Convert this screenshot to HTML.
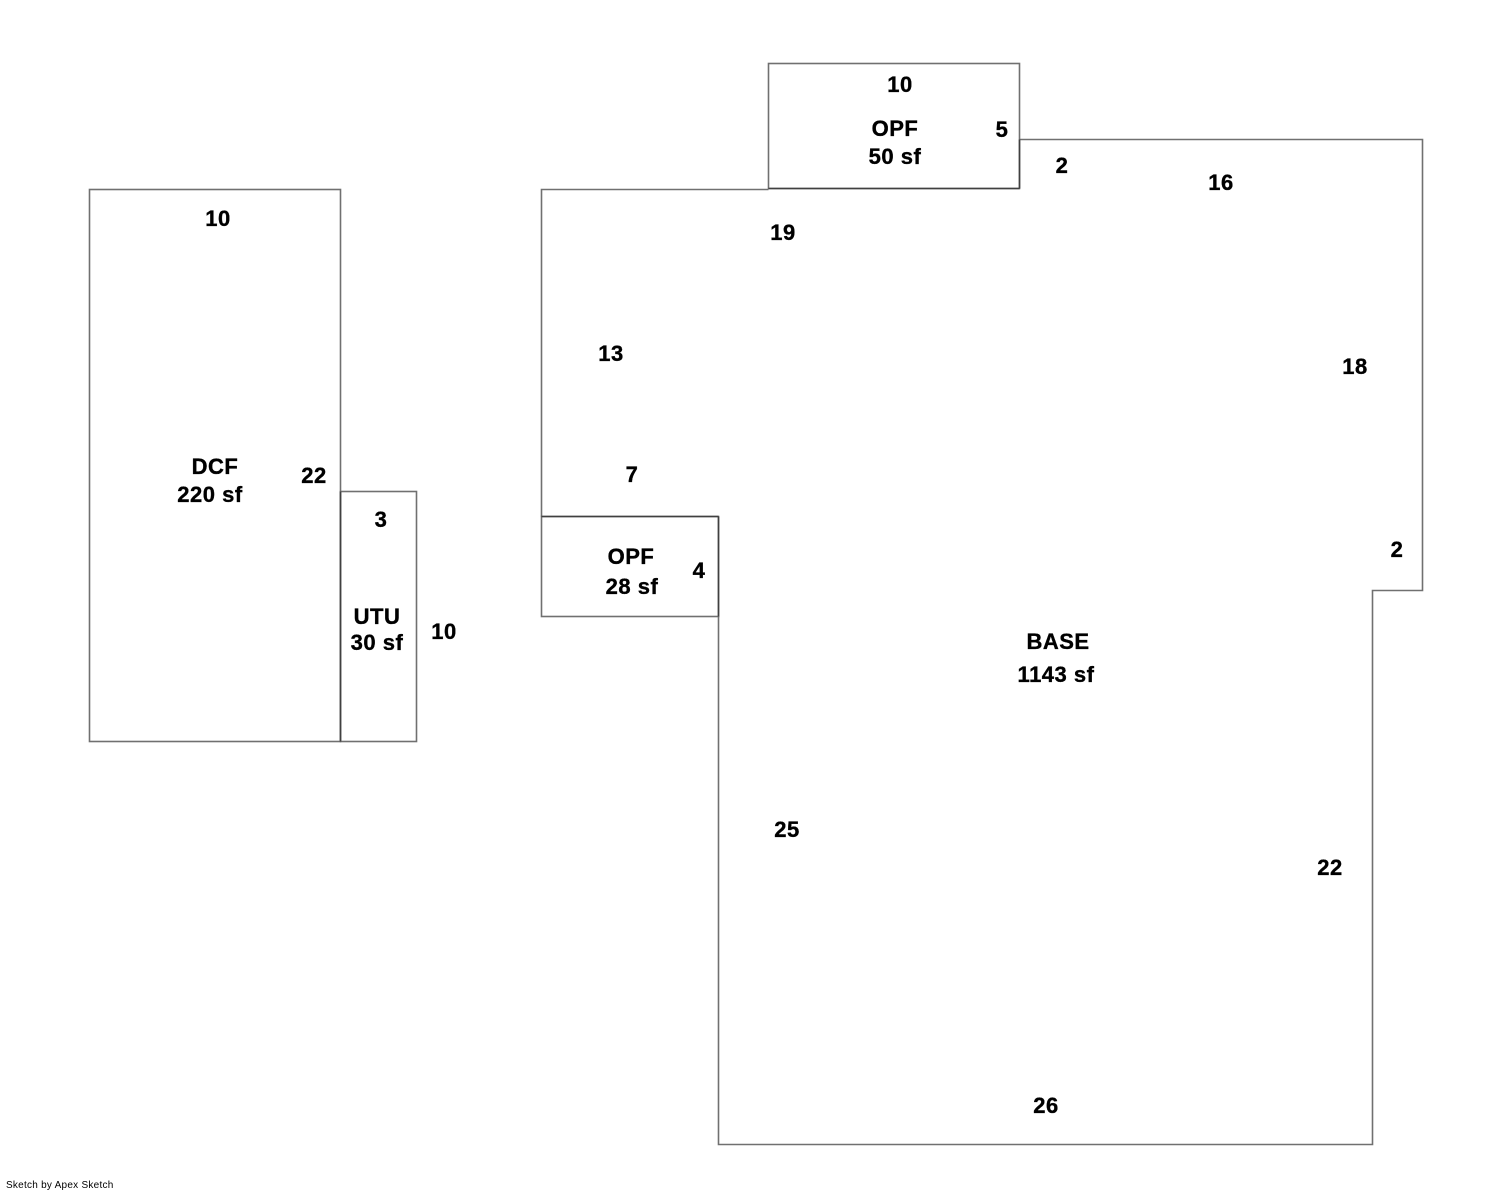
<!DOCTYPE html>
<html>
<head>
<meta charset="utf-8">
<style>
html,body{margin:0;padding:0;background:#fff;}
svg{display:block;}
text{font-family:"Liberation Sans",Arial,sans-serif;font-weight:bold;font-size:22px;fill:#000;stroke:#000;stroke-width:0.35px;letter-spacing:0.5px;text-anchor:middle;}
.ft{font-weight:normal;font-size:10px;letter-spacing:0.25px;stroke:none;text-anchor:start;}
</style>
</head>
<body>
<svg width="1492" height="1190" viewBox="0 0 1492 1190" xmlns="http://www.w3.org/2000/svg">
<g fill="none" stroke="#707070" stroke-width="1.6">
  <rect x="89.5" y="189.5" width="251" height="552"/>
  <rect x="340.5" y="491.5" width="76" height="250"/>
  <rect x="768.5" y="63.5" width="251" height="125"/>
  <polyline points="768.5,189.5 541.5,189.5 541.5,516.5"/>
  <polyline points="1019.5,139.5 1422.5,139.5 1422.5,590.5 1372.5,590.5 1372.5,1144.5 718.5,1144.5 718.5,616.5"/>
  <rect x="541.5" y="516.5" width="177" height="100"/>
</g>
<g stroke="#404040" stroke-width="1.6" fill="none">
  <line x1="340.5" y1="491.5" x2="340.5" y2="741.5"/>
  <line x1="768.5" y1="188.5" x2="1019.5" y2="188.5"/>
  <line x1="1019.5" y1="139.5" x2="1019.5" y2="188.5"/>
  <line x1="541.5" y1="516.5" x2="718.5" y2="516.5"/>
  <line x1="718.5" y1="516.5" x2="718.5" y2="616.5"/>
</g>

<text x="900" y="92">10</text>
<text x="895" y="136">OPF</text>
<text x="895" y="164">50 sf</text>
<text x="1002" y="137">5</text>

<text x="1062" y="173">2</text>
<text x="1221" y="190">16</text>
<text x="783" y="240">19</text>
<text x="611" y="361">13</text>
<text x="1355" y="374">18</text>
<text x="632" y="482">7</text>
<text x="1397" y="557">2</text>
<text x="1058" y="649">BASE</text>
<text x="1056" y="682">1143 sf</text>
<text x="787" y="837">25</text>
<text x="1330" y="875">22</text>
<text x="1046" y="1113">26</text>

<text x="631" y="564">OPF</text>
<text x="632" y="594">28 sf</text>
<text x="699" y="578">4</text>

<text x="218" y="226">10</text>
<text x="215" y="474">DCF</text>
<text x="210" y="502">220 sf</text>
<text x="314" y="483">22</text>

<text x="381" y="527">3</text>
<text x="377" y="624">UTU</text>
<text x="377" y="650">30 sf</text>
<text x="444" y="639">10</text>

<text class="ft" x="6" y="1188">Sketch by Apex Sketch</text>
</svg>
</body>
</html>
